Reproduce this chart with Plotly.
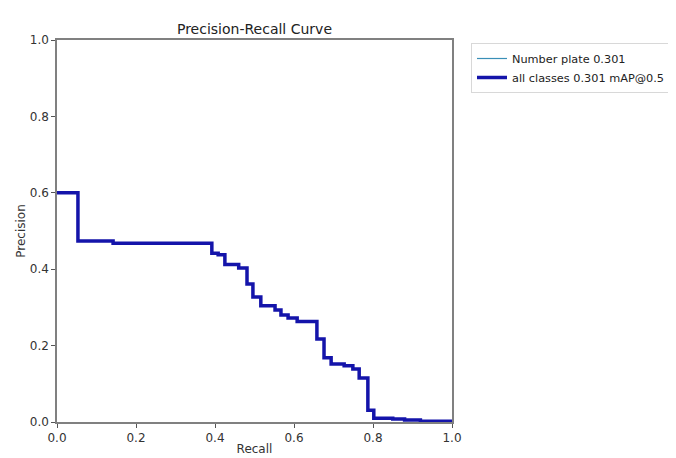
import plotly.graph_objects as go

recall = [0.0, 0.053, 0.142, 0.392, 0.408, 0.425, 0.46, 0.481, 0.496, 0.516, 0.552,
          0.567, 0.585, 0.608, 0.658, 0.676, 0.694, 0.727, 0.749, 0.765, 0.787,
          0.802, 0.85, 0.88, 0.92, 1.0]
precision = [0.6, 0.474, 0.468, 0.442, 0.438, 0.412, 0.403, 0.361, 0.327, 0.304, 0.293,
             0.28, 0.272, 0.263, 0.217, 0.168, 0.152, 0.147, 0.139, 0.115, 0.031,
             0.01, 0.008, 0.005, 0.002, 0.0]

class_label = "Number plate 0.301"
all_label = "all classes 0.301 mAP@0.5"
ticks = [0.0, 0.2, 0.4, 0.6, 0.8, 1.0]

fig = go.Figure()
fig.add_trace(go.Scatter(x=recall, y=precision, mode="lines", line_shape="hv",
                         line=dict(color="#3a8fb7", width=1.2), name=class_label))
fig.add_trace(go.Scatter(x=recall, y=precision, mode="lines", line_shape="hv",
                         line=dict(color="#1414aa", width=3.5), name=all_label))

axis_common = dict(range=[0, 1], tickvals=ticks, tickformat=".1f", showgrid=False,
                   zeroline=False, showline=True, mirror=True, linecolor="#808080",
                   linewidth=1.5, ticks="outside", ticklen=4, tickcolor="#555555",
                   automargin=False,
                   tickfont=dict(family="DejaVu Sans", size=12, color="#333333"))

L, T, PW, PH = 49, 32, 395, 382
W, H = 676, 458

fig.update_layout(
    width=W, height=H,
    paper_bgcolor="white", plot_bgcolor="white",
    margin=dict(l=L, r=W - L - PW, t=T, b=H - T - PH),
    title=dict(text="Precision-Recall Curve", x=(L + PW / 2) / W, xanchor="center",
               y=1 - 21 / H, yanchor="middle",
               font=dict(family="DejaVu Sans", size=14, color="#222222")),
    xaxis=dict(**axis_common, title=dict(text="Recall", standoff=0,
               font=dict(family="DejaVu Sans", size=12, color="#333333"))),
    yaxis=dict(**axis_common, title=dict(text="Precision", standoff=2,
               font=dict(family="DejaVu Sans", size=12, color="#333333"))),
    legend=dict(xref="container", yref="container", x=463 / W, y=1 - 35 / H,
                xanchor="left", yanchor="top",
                bordercolor="#d8d8d8", borderwidth=1,
                font=dict(family="DejaVu Sans", size=11.3, color="#222222")),
    showlegend=True,
)

fig.write_html("out.html")
